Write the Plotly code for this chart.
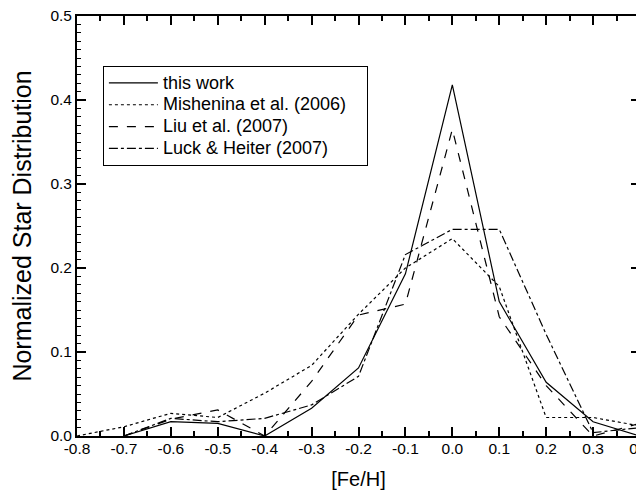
import plotly.graph_objects as go

feh = [-0.8, -0.7, -0.6, -0.5, -0.4, -0.3, -0.2, -0.1, 0.0, 0.1, 0.2, 0.3, 0.4]

this_work = [None, 0.0, 0.017, 0.015, 0.0, 0.033, 0.081, 0.193, 0.418, 0.16, 0.064, 0.017, 0.0]
mishenina = [0.0, 0.011, 0.027, 0.022, 0.051, 0.084, 0.145, 0.2, 0.235, 0.178, 0.022, 0.022, 0.012]
liu = [None, 0.0, 0.02, 0.031, 0.0, 0.065, 0.144, 0.157, 0.365, 0.142, 0.06, 0.0, 0.015]
luck = [None, 0.0, 0.021, 0.017, 0.021, 0.037, 0.071, 0.216, 0.246, 0.246, 0.121, 0.004, 0.01]

series_names = ["this work", "Mishenina et al. (2006)", "Liu et al. (2007)", "Luck & Heiter (2007)"]
series_vals = [this_work, mishenina, liu, luck]
series_dash = ["solid", "dot", "dash", "dashdot"]

x_tickvals = [-0.8, -0.7, -0.6, -0.5, -0.4, -0.3, -0.2, -0.1, 0.0, 0.1, 0.2, 0.3, 0.4]
x_ticktext = ["-0.8", "-0.7", "-0.6", "-0.5", "-0.4", "-0.3", "-0.2", "-0.1", "0.0", "0.1", "0.2", "0.3", "0.4"]
y_tickvals = [0.0, 0.1, 0.2, 0.3, 0.4, 0.5]
y_ticktext = ["0.0", "0.1", "0.2", "0.3", "0.4", "0.5"]

fig = go.Figure()
for name, vals, dash in zip(series_names, series_vals, series_dash):
    fig.add_trace(go.Scatter(
        x=feh, y=vals,
        name='<span style="font-size:18px">' + name + '\u00a0\u00a0\u00a0\u200b</span>',
        mode="lines",
        line=dict(color="black", width=1.2, dash=dash),
        connectgaps=False,
    ))

font_family = "Liberation Sans, Arial, sans-serif"

fig.update_layout(
    template="none",
    width=644, height=491,
    margin=dict(l=69, r=12, t=8, b=63, autoexpand=False),
    paper_bgcolor="white", plot_bgcolor="white",
    font=dict(family=font_family, size=15, color="black"),
    showlegend=True,
    legend=dict(
        x=0.046, y=0.881, xanchor="left", yanchor="top",
        bordercolor="black", borderwidth=1, bgcolor="white",
        font=dict(size=14.5, family=font_family),
        tracegroupgap=0, itemwidth=49,
    ),
    xaxis=dict(
        range=[-0.8, 0.4], tickvals=x_tickvals, ticktext=x_ticktext,
        ticks="inside", ticklen=9, tickwidth=1.5, tickcolor="black",
        showline=True, linecolor="black", linewidth=1.8, mirror="ticks",
        showgrid=False, zeroline=False, automargin=False,
        ticklabeloverflow="allow", ticklabelstandoff=-3,
        minor=dict(dtick=0.05, ticks="inside", ticklen=5, tickwidth=1.5, tickcolor="black", showgrid=False),
        title=dict(text="[Fe/H]", font=dict(size=20), standoff=16),
        tickfont=dict(size=15.5),
    ),
    yaxis=dict(
        range=[0, 0.5], tickvals=y_tickvals, ticktext=y_ticktext,
        ticks="inside", ticklen=9, tickwidth=1.5, tickcolor="black",
        showline=True, linecolor="black", linewidth=1.8, mirror="ticks",
        showgrid=False, zeroline=False, automargin=False,
        ticklabeloverflow="allow",
        minor=dict(dtick=0.01, ticks="inside", ticklen=4, tickwidth=1.2, tickcolor="black", showgrid=False),
        title=dict(text="Normalized Star Distribution", font=dict(size=25), standoff=20),
        tickfont=dict(size=15.5),
    ),
)

fig.write_html("out.html")
